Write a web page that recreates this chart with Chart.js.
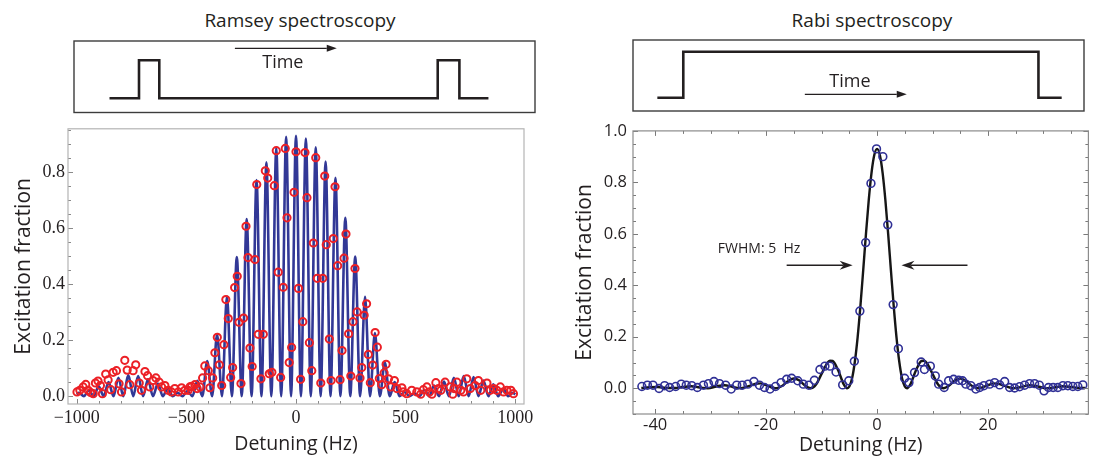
<!DOCTYPE html>
<html>
<head>
<meta charset="utf-8">
<script src="https://cdn.jsdelivr.net/npm/chart.js@4.4.1/dist/chart.umd.min.js"></script>
<style>
    html, body { margin: 0; padding: 0; background: #fff; }
    #page { position: relative; width: 1094px; height: 457px; overflow: hidden; color: #231f20;
            font-family: "Open Sans", sans-serif; }
    canvas { position: absolute; }
    .title { position: absolute; width: 300px; top: 8px; line-height: 24px; font-size: 19px;
             text-align: center; white-space: nowrap; }
</style>
</head>
<body>
<div id="page">
    <div class="title" style="left:150px;">Ramsey spectroscopy</div>
    <div class="title" style="left:722px;">Rabi spectroscopy</div>
    <canvas id="ramseyPulse" width="490" height="85" style="left:60px; top:30px;"></canvas>
    <canvas id="rabiPulse" width="474" height="85" style="left:620px; top:30px;"></canvas>
    <canvas id="ramsey" width="540" height="342" style="left:0; top:115px;"></canvas>
    <canvas id="rabi" width="534" height="342" style="left:560px; top:115px;"></canvas>
</div>
<script>
const ink = "#231f20";

// ---- Ramsey: measured points
const ramseyPointHz = [
    -999, -986, -971, -959, -948, -937, -925, -915, -903, -892,
    -883, -868, -857, -845, -834, -819, -807, -796, -781, -770,
    -758, -743, -731, -715, -705, -689, -677, -667, -652, -639,
    -624, -613, -598, -583, -568, -553, -537, -522, -507, -492,
    -484, -476, -461, -451, -438, -426, -416, -400, -393, -380,
    -370, -359, -350, -339, -329, -320, -309, -298, -289, -280,
    -268, -260, -251, -239, -228, -219, -210, -200, -187, -179,
    -172, -160, -149, -140, -129, -122, -110, -99, -90, -81,
    -70, -58, -49, -41, -31, -20, -9, 0, 11, 21,
    31, 41, 50, 61, 72, 79, 90, 97, 113, 122,
    131, 138, 152, 160, 170, 178, 190, 201, 210, 219,
    228, 240, 250, 260, 269, 279, 292, 300, 311, 322,
    330, 339, 350, 361, 371, 380, 391, 402, 411, 422,
    432, 449, 460, 483, 490, 505, 528, 551, 569, 581,
    597, 609, 620, 638, 650, 661, 680, 703, 715, 721,
    734, 752, 764, 779, 795, 817, 832, 843, 871, 886,
    901, 916, 932, 947, 962, 980, 992,
];
const ramseyPointVal = [
    0.015, 0.021, 0.033, 0.042, 0.021, 0.013, 0.009, 0.047, 0.054, 0.038,
    0.009, 0.079, 0.058, 0.023, 0.085, 0.091, 0.044, 0.015, 0.128, 0.093,
    0.041, 0.091, 0.112, 0.047, 0.021, 0.088, 0.073, 0.033, 0.056, 0.065,
    0.050, 0.033, 0.038, 0.021, 0.015, 0.027, 0.015, 0.030, 0.021, 0.021,
    0.033, 0.035, 0.041, 0.027, 0.033, 0.065, 0.108, 0.091, 0.030, 0.065,
    0.155, 0.210, 0.112, 0.038, 0.184, 0.345, 0.277, 0.067, 0.102, 0.388,
    0.428, 0.264, 0.045, 0.279, 0.607, 0.495, 0.172, 0.106, 0.488, 0.756,
    0.221, 0.062, 0.221, 0.805, 0.779, 0.080, 0.085, 0.752, 0.877, 0.443,
    0.067, 0.389, 0.885, 0.637, 0.120, 0.174, 0.728, 0.873, 0.385, 0.060,
    0.266, 0.870, 0.709, 0.191, 0.091, 0.547, 0.852, 0.421, 0.047, 0.421,
    0.786, 0.541, 0.204, 0.056, 0.563, 0.748, 0.466, 0.059, 0.163, 0.493,
    0.579, 0.223, 0.072, 0.266, 0.456, 0.301, 0.065, 0.102, 0.289, 0.330,
    0.149, 0.048, 0.111, 0.227, 0.175, 0.063, 0.041, 0.083, 0.114, 0.062,
    0.033, 0.056, 0.027, 0.030, 0.015, 0.009, 0.021, 0.015, 0.007, 0.023,
    0.033, 0.015, 0.007, 0.048, 0.027, 0.021, 0.050, 0.033, 0.007, 0.027,
    0.050, 0.021, 0.015, 0.062, 0.027, 0.038, 0.056, 0.021, 0.047, 0.021,
    0.027, 0.021, 0.033, 0.015, 0.021, 0.021, 0.009,
];

// ---- Ramsey: fitted fringes, read as fringe tops and fringe bottoms
const ramseyPeakHz = [
    -1000, -990, -945, -900, -855, -810, -765, -720, -675, -630, -585,
    -540, -495, -450, -405, -360, -315, -270, -225, -180, -135,
    -90, -45, 0, 45, 90, 135, 180, 225, 270, 315,
    360, 405, 450, 495, 540, 585, 630, 675, 720, 765,
    810, 855, 900, 945, 990, 1000,
];
const ramseyPeakVal = [
    0.006, 0.012, 0.020, 0.035, 0.050, 0.066, 0.075, 0.072, 0.060, 0.045, 0.028,
    0.012, 0.018, 0.055, 0.125, 0.222, 0.356, 0.497, 0.633, 0.772, 0.835,
    0.887, 0.926, 0.930, 0.920, 0.889, 0.838, 0.780, 0.637, 0.499, 0.355,
    0.225, 0.120, 0.050, 0.015, 0.010, 0.022, 0.038, 0.052, 0.066, 0.072,
    0.068, 0.056, 0.042, 0.026, 0.012, 0.006,
];
const ramseyDipHz = [
    -967.5, -922.5, -877.5, -832.5, -787.5, -742.5, -697.5, -652.5, -607.5, -562.5,
    -517.5, -472.5, -427.5, -382.5, -337.5, -292.5, -247.5, -202.5, -157.5, -112.5,
    -67.5, -22.5, 22.5, 67.5, 112.5, 157.5, 202.5, 247.5, 292.5, 337.5,
    382.5, 427.5, 472.5, 517.5, 562.5, 607.5, 652.5, 697.5, 742.5, 787.5,
    832.5, 877.5, 922.5, 967.5,
];
const ramseyDipVal = [
    0, 0, 0, 0, 0, 0, 0, 0, 0, 0,
    0, 0, 0, 0, 0, 0, 0, 0, 0, 0,
    0, 0, 0, 0, 0, 0, 0, 0, 0, 0,
    0, 0, 0, 0, 0, 0, 0, 0, 0, 0,
    0, 0, 0, 0,
];
const ramseyXTicks = [-1000, -500, 0, 500, 1000];
const ramseyYTicks = [0, 0.2, 0.4, 0.6, 0.8];

// ---- Rabi: measured points
const rabiPointHz = [
    -42.4, -41.4, -40.4, -39.3, -38.3, -37.4, -36.3, -35.3, -34.4, -33.4,
    -32.4, -31.3, -30.4, -29.4, -28.4, -27.3, -26.3, -25.3, -24.3, -23.3,
    -22.2, -21.2, -20.3, -19.3, -18.3, -17.3, -16.3, -15.4, -14.3, -13.3,
    -12.3, -11.3, -10.3, -9.4, -8.5, -7.4, -6.2, -5.1, -4.1, -3.1,
    -2.05, -1.1, -0.1, 1.04, 1.93, 2.9, 3.84, 4.96, 5.75, 6.75,
    7.95, 8.54, 9.6, 10.5, 11.1, 12.1, 12.9, 13.8, 14.7, 15.4,
    16.0, 16.9, 17.8, 18.5, 19.25, 20.3, 21.2, 22.1, 23.0, 23.9,
    24.8, 25.7, 26.6, 27.5, 28.4, 29.25, 30.1, 30.9, 31.75, 32.6,
    33.5, 34.4, 35.3, 36.2, 37.1,
];
const rabiPointVal = [
    0.007, 0.012, 0.012, -0.001, 0.010, 0.003, 0.007, 0.016, 0.012, 0.010,
    0.003, 0.012, 0.018, 0.026, 0.018, 0.012, -0.003, 0.012, 0.012, 0.016,
    0.026, 0.012, 0.003, -0.003, 0.007, 0.022, 0.035, 0.039, 0.029, 0.016,
    0.012, 0.031, 0.073, 0.086, 0.086, 0.063, 0.013, 0.029, 0.105, 0.300,
    0.566, 0.796, 0.930, 0.900, 0.635, 0.325, 0.154, 0.039, 0.022, 0.061,
    0.102, 0.073, 0.086, 0.048, 0.016, 0.003, 0.029, 0.035, 0.031, 0.029,
    0.016, 0.010, -0.003, 0.003, 0.010, 0.016, 0.022, 0.013, 0.026, 0.003,
    0.001, 0.006, 0.012, 0.018, 0.018, 0.012, -0.010, 0.003, 0.003, 0.003,
    0.010, 0.010, 0.007, 0.007, 0.013,
];

// ---- Rabi: fitted line shape
const rabiFitHz = [
    -42.5, -41, -39.5, -38, -36.5, -35, -33.5, -32, -30.5, -29,
    -27.5, -26, -24.5, -23, -22, -21, -20, -19, -18.3, -17,
    -16, -15, -14, -13, -12, -11, -10, -9, -8.5, -8,
    -7, -6, -5.4, -5, -4.5, -4, -3.5, -3, -2.5, -2,
    -1.5, -1, -0.5, 0, 0.5, 1, 1.5, 2, 2.5, 3,
    3.5, 4, 4.5, 5, 5.4, 6, 7, 8, 8.5, 9,
    10, 11, 12, 13, 14, 15, 16, 17, 18.3, 19,
    20, 21, 22, 23, 24.5, 26, 27.5, 29, 30.5, 32,
    33.5, 35, 36.5, 37.5,
];
const rabiFitVal = [
    0.001, 0.004, 0.005, 0.001, 0.001, 0.005, 0.008, 0.003, 0, 0.007,
    0.012, 0.005, 0, 0.009, 0.017, 0.019, 0.012, 0.003, 0, 0.011,
    0.028, 0.038, 0.030, 0.011, 0, 0.015, 0.056, 0.097, 0.107, 0.106,
    0.069, 0.015, 0, 0.007, 0.039, 0.104, 0.199, 0.320, 0.458, 0.600,
    0.731, 0.837, 0.906, 0.930, 0.906, 0.837, 0.731, 0.600, 0.458, 0.320,
    0.199, 0.104, 0.039, 0.007, 0, 0.015, 0.069, 0.106, 0.107, 0.097,
    0.056, 0.015, 0, 0.011, 0.030, 0.038, 0.028, 0.011, 0, 0.003,
    0.012, 0.019, 0.017, 0.009, 0, 0.005, 0.012, 0.007, 0, 0.003,
    0.008, 0.005, 0.001, 0.001,
];
const rabiXTicks = [-40, -20, 0, 20];
const rabiYTicks = [0, 0.2, 0.4, 0.6, 0.8, 1.0];

// ---- pulse sequences (time in % of box, level 0..1)
const ramseyPulseT = [7.7, 14.1, 14.1, 18.5, 18.5, 78.9, 78.9, 83.6, 83.6, 89.9];
const ramseyPulseLevel = [0.2, 0.2, 0.73, 0.73, 0.2, 0.2, 0.73, 0.73, 0.2, 0.2];
const rabiPulseT = [5.4, 11.15, 11.15, 89.9, 89.9, 95.05];
const rabiPulseLevel = [0.187, 0.187, 0.835, 0.835, 0.187, 0.187];

const points = (xs, ys) => xs.map((x, i) => ({x, y: ys[i]}));

Chart.defaults.font.family = '"Open Sans", sans-serif';
Chart.defaults.color = ink;

function arrowHead(ctx, x, y, dir, len, half, notch) {
    ctx.beginPath();
    ctx.moveTo(x, y);
    ctx.lineTo(x - dir * len, y - half);
    ctx.lineTo(x - dir * (len - notch), y);
    ctx.lineTo(x - dir * len, y + half);
    ctx.closePath();
    ctx.fill();
}

function arrow(ctx, x0, x1, y, len, half, notch) {
    const dir = Math.sign(x1 - x0);
    ctx.beginPath();
    ctx.moveTo(x0, y);
    ctx.lineTo(x1 - dir * (len - notch), y);
    ctx.stroke();
    arrowHead(ctx, x1, y, dir, len, half, notch);
}

// frame round the plot with inward ticks
const frameTicks = {
    id: "frameTicks",
    afterDraw(chart, args, o) {
        const {ctx, chartArea: a, scales: {x, y}} = chart;
        ctx.save();
        ctx.strokeStyle = o.tickColor;
        ctx.lineWidth = 1;
        const tick = (px, py, dx, dy) => {
            ctx.beginPath();
            ctx.moveTo(px, py);
            ctx.lineTo(px + dx, py + dy);
            ctx.stroke();
        };
        const isMajor = (v, m) => Math.abs(v / m - Math.round(v / m)) < 1e-6;
        for (let i = Math.ceil(x.min / o.xStep); i * o.xStep <= x.max; i++) {
            const v = i * o.xStep;
            const len = isMajor(v, o.xMajor) ? o.major : o.minor;
            const px = Math.round(x.getPixelForValue(v)) + 0.5;
            tick(px, a.bottom, 0, -len);
            if (o.allSides) tick(px, a.top, 0, len);
        }
        for (let i = Math.ceil(y.min / o.yStep - 1e-9); i * o.yStep <= y.max + 1e-9; i++) {
            const v = i * o.yStep;
            const len = isMajor(v, o.yMajor) ? o.major : o.minor;
            const py = Math.round(y.getPixelForValue(v)) + 0.5;
            tick(a.left, py, len, 0);
            if (o.allSides) tick(a.right, py, -len, 0);
        }
        ctx.strokeStyle = o.frameColor;
        ctx.lineWidth = o.frameWidth;
        ctx.strokeRect(a.left, a.top, a.right - a.left, a.bottom - a.top);
        ctx.restore();
    },
};

// box, arrow and "Time" label of the pulse sketches
const pulseNote = {
    id: "pulseNote",
    afterDraw(chart, args, o) {
        const {ctx, chartArea: a, scales: {x, y}} = chart;
        ctx.save();
        ctx.strokeStyle = "#3c3c3c";
        ctx.lineWidth = 1.4;
        ctx.strokeRect(a.left, a.top, a.right - a.left, a.bottom - a.top);
        ctx.strokeStyle = ink;
        ctx.fillStyle = ink;
        ctx.lineWidth = 1.3;
        arrow(ctx, x.getPixelForValue(o.arrow[0]), x.getPixelForValue(o.arrow[1]),
              y.getPixelForValue(o.arrow[2]), 10, 3.5, 0);
        ctx.font = '18px "Open Sans", sans-serif';
        ctx.textAlign = "center";
        ctx.textBaseline = "middle";
        ctx.fillText(o.label, x.getPixelForValue(o.labelAt[0]), y.getPixelForValue(o.labelAt[1]));
        ctx.restore();
    },
};

// FWHM label and arrows on the Rabi plot
const fwhmNote = {
    id: "fwhmNote",
    afterDatasetsDraw(chart, args, o) {
        const {ctx, scales: {x, y}} = chart;
        ctx.save();
        ctx.fillStyle = ink;
        ctx.strokeStyle = ink;
        ctx.lineWidth = 1.3;
        ctx.font = '14px "Open Sans", sans-serif';
        ctx.textBaseline = "middle";
        ctx.fillText(o.text, x.getPixelForValue(o.textAt[0]), y.getPixelForValue(o.textAt[1]));
        const py = y.getPixelForValue(o.arrowY);
        for (const [from, to] of o.arrows) {
            arrow(ctx, x.getPixelForValue(from), x.getPixelForValue(to), py, 13, 4.5, 4);
        }
        ctx.restore();
    },
};

function pulseChart(id, ts, levels, note, pad) {
    return new Chart(document.getElementById(id), {
        type: "scatter",
        data: {
            datasets: [{
                data: points(ts, levels),
                showLine: true,
                borderColor: ink,
                borderWidth: 2.6,
                borderJoinStyle: "miter",
                borderCapStyle: "butt",
                pointRadius: 0,
            }],
        },
        options: {
            responsive: false,
            animation: false,
            events: [],
            layout: {padding: pad},
            plugins: {legend: {display: false}, tooltip: {enabled: false}, pulseNote: note},
            scales: {
                x: {type: "linear", display: false, min: 0, max: 100},
                y: {type: "linear", display: false, min: 0, max: 1},
            },
        },
        plugins: [pulseNote],
    });
}

pulseChart("ramseyPulse", ramseyPulseT, ramseyPulseLevel,
    {arrow: [34.9, 57.0, 0.898], label: "Time", labelAt: [45.3, 0.70]},
    {left: 14, right: 15, top: 11, bottom: 2.5});
pulseChart("rabiPulse", rabiPulseT, rabiPulseLevel,
    {arrow: [38.1, 60.7, 0.235], label: "Time", labelAt: [48.1, 0.413]},
    {left: 13, right: 10, top: 10, bottom: 4});

const fringe = [...points(ramseyPeakHz, ramseyPeakVal), ...points(ramseyDipHz, ramseyDipVal)]
    .sort((a, b) => a.x - b.x);

const serifTicks = {family: '"Liberation Serif", serif', size: 18};

new Chart(document.getElementById("ramsey"), {
    type: "scatter",
    data: {
        datasets: [
            {
                label: "points",
                data: points(ramseyPointHz, ramseyPointVal),
                pointStyle: "circle",
                pointRadius: 3.6,
                borderWidth: 2,
                borderColor: "rgb(236,32,38)",
                backgroundColor: "rgba(0,0,0,0)",
                order: 1,
            },
            {
                label: "fit",
                data: fringe,
                showLine: true,
                cubicInterpolationMode: "monotone",
                borderColor: "rgb(50,56,150)",
                borderWidth: 2.6,
                pointRadius: 0,
                order: 2,
            },
        ],
    },
    options: {
        responsive: false,
        animation: false,
        events: [],
        layout: {padding: {top: 7, right: 16, left: 0, bottom: 0}},
        plugins: {
            legend: {display: false},
            tooltip: {enabled: false},
            frameTicks: {
                tickColor: "#8a8a8a", frameColor: "#b4b4b4", frameWidth: 1.2,
                xStep: 100, xMajor: 500, yStep: 0.05, yMajor: 0.2,
                major: 5, minor: 3, allSides: false,
            },
        },
        scales: {
            x: {
                type: "linear",
                min: -1040,
                max: 1040,
                afterBuildTicks: s => { s.ticks = ramseyXTicks.map(v => ({value: v})); },
                afterFit: s => { s.height = 53; },
                grid: {display: false, drawTicks: false},
                border: {display: false},
                ticks: {
                    padding: 3,
                    maxRotation: 0,
                    font: serifTicks,
                    color: ink,
                    callback: v => (v < 0 ? "\u2212" + Math.abs(v) : String(v)),
                },
                title: {
                    display: true, text: "Detuning (Hz)", color: ink,
                    font: {size: 19.5}, padding: {top: 0, bottom: 1},
                },
            },
            y: {
                type: "linear",
                min: -0.028,
                max: 0.955,
                afterBuildTicks: s => { s.ticks = ramseyYTicks.map(v => ({value: v})); },
                afterFit: s => { s.width = 68; },
                grid: {display: false, drawTicks: false},
                border: {display: false},
                ticks: {
                    padding: 3,
                    font: serifTicks,
                    color: ink,
                    callback: v => v.toFixed(1),
                },
                title: {
                    display: true, text: "Excitation fraction", color: ink,
                    font: {size: 21}, padding: {top: 11.4, bottom: 0},
                },
            },
        },
    },
    plugins: [frameTicks],
});

new Chart(document.getElementById("rabi"), {
    type: "scatter",
    data: {
        datasets: [
            {
                label: "points",
                data: points(rabiPointHz, rabiPointVal),
                pointStyle: "circle",
                pointRadius: 3.9,
                borderWidth: 1.6,
                borderColor: "rgb(48,48,150)",
                backgroundColor: "rgba(0,0,0,0)",
                order: 1,
            },
            {
                label: "fit",
                data: points(rabiFitHz, rabiFitVal),
                showLine: true,
                cubicInterpolationMode: "monotone",
                borderColor: "#161616",
                borderWidth: 2.4,
                pointRadius: 0,
                order: 2,
            },
        ],
    },
    options: {
        responsive: false,
        animation: false,
        events: [],
        layout: {padding: {top: 12, right: 1, left: 0, bottom: 0}},
        plugins: {
            legend: {display: false},
            tooltip: {enabled: false},
            frameTicks: {
                tickColor: "#7a7a7a", frameColor: "#8c8c8c", frameWidth: 1.2,
                xStep: 5, xMajor: 20, yStep: 0.05, yMajor: 0.2,
                major: 5, minor: 3, allSides: true,
            },
            fwhmNote: {
                text: "FWHM: 5  Hz",
                textAt: [-28.7, 0.542],
                arrowY: 0.478,
                arrows: [[-16.3, -4.4], [16.3, 4.4]],
            },
        },
        scales: {
            x: {
                type: "linear",
                min: -44,
                max: 38.1,
                afterBuildTicks: s => { s.ticks = rabiXTicks.map(v => ({value: v})); },
                afterFit: s => { s.height = 43; },
                grid: {display: false, drawTicks: false},
                border: {display: false},
                ticks: {
                    padding: 1,
                    maxRotation: 0,
                    font: {size: 16.5},
                    color: ink,
                    callback: v => String(v),
                },
                title: {
                    display: true, text: "Detuning (Hz)", color: ink,
                    font: {size: 19.5}, padding: {top: 0, bottom: 0},
                },
            },
            y: {
                type: "linear",
                min: -0.1,
                max: 1.0,
                afterBuildTicks: s => { s.ticks = rabiYTicks.map(v => ({value: v})); },
                afterFit: s => { s.width = 73; },
                grid: {display: false, drawTicks: false},
                border: {display: false},
                ticks: {
                    padding: 6,
                    font: {size: 16.5},
                    color: ink,
                    callback: v => v.toFixed(1),
                },
                title: {
                    display: true, text: "Excitation fraction", color: ink,
                    font: {size: 21}, padding: {top: 12.4, bottom: 0},
                },
            },
        },
    },
    plugins: [frameTicks, fwhmNote],
});
</script>
</body>
</html>
